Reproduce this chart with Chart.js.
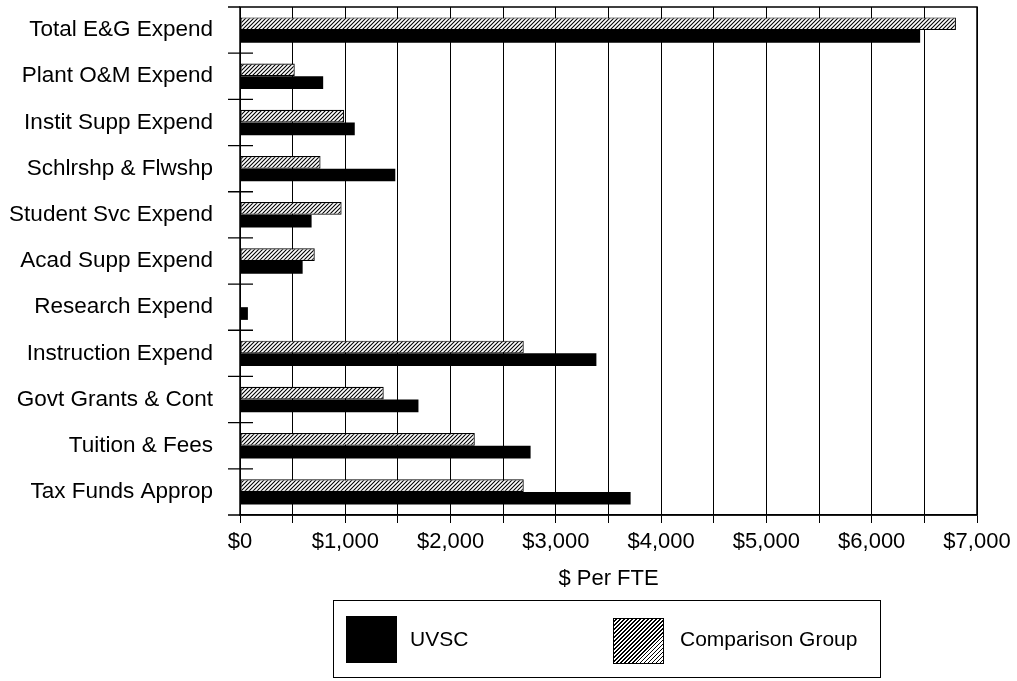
<!DOCTYPE html>
<html>
<head>
<meta charset="utf-8">
<script src="https://cdn.jsdelivr.net/npm/chart.js@4.4.0/dist/chart.umd.min.js"></script>
<style>
  html, body { margin: 0; padding: 0; background: #fff; }
  #wrap { position: relative; width: 1017px; height: 681px; overflow: hidden; }
  #c { position: absolute; left: 0; top: 0; }
  #legend {
    position: absolute; left: 333px; top: 600px; width: 548px; height: 78px;
    border: 1.5px solid #000; box-sizing: border-box;
    font-family: 'Liberation Sans', Arial, sans-serif; font-size: 21px; color: #000;
  }
  .sw { position: absolute; box-sizing: border-box; }
  .lt { position: absolute; line-height: 26px; white-space: nowrap; }
</style>
</head>
<body>
<div id="wrap">
  <canvas id="c" width="1017" height="681"></canvas>
  <div id="legend">
    <div class="sw" style="left:12px; top:15px; width:51px; height:47px; background:#000;"></div>
    <div class="lt" style="left:76px; top:25px;">UVSC</div>
    <div class="sw" style="left:279px; top:17px; width:51px; height:46px; border:1.5px solid #000;
      background: repeating-linear-gradient(-45deg, #fff 0px, #fff 1.6px, #000 1.6px, #000 2.8px);"></div>
    <div class="lt" style="left:346px; top:25px;">Comparison Group</div>
  </div>
</div>
<script>
// ---- data ----
const categories = [
  'Total E&G Expend', 'Plant O&M Expend', 'Instit Supp Expend', 'Schlrshp & Flwshp',
  'Student Svc Expend', 'Acad Supp Expend', 'Research Expend', 'Instruction Expend',
  'Govt Grants & Cont', 'Tuition & Fees', 'Tax Funds Approp'
];
const comparisonGroup = [6800, 520, 990, 765, 965, 710, 0, 2695, 1365, 2230, 2695];
const uvsc = [6460, 790, 1090, 1475, 680, 595, 75, 3385, 1695, 2760, 3710];
const xTickValues = [0, 1000, 2000, 3000, 4000, 5000, 6000, 7000];
const seriesNames = ['Comparison Group', 'UVSC'];
const axisTitle = '$ Per FTE';

// ---- hatch pattern ----
function makeHatch() {
  const s = 4;
  const p = document.createElement('canvas');
  p.width = s; p.height = s;
  const g = p.getContext('2d');
  g.fillStyle = '#fff';
  g.fillRect(0, 0, s, s);
  g.strokeStyle = '#000';
  g.lineWidth = 1.1;
  g.beginPath();
  g.moveTo(0, s); g.lineTo(s, 0);
  g.moveTo(-1, 1); g.lineTo(1, -1);
  g.moveTo(s - 1, s + 1); g.lineTo(s + 1, s - 1);
  g.stroke();
  return document.getElementById('c').getContext('2d').createPattern(p, 'repeat');
}

const FONT = "'Liberation Sans', Arial, sans-serif";

const framePlugin = {
  id: 'frame',
  afterDraw(chart) {
    const { ctx, chartArea: a, scales } = chart;
    const y = scales.y;
    ctx.save();
    ctx.strokeStyle = '#000';
    ctx.lineWidth = 1.5;
    ctx.strokeRect(a.left, a.top, a.right - a.left, a.bottom - a.top);
    // category separator marks crossing the value axis
    const n = categories.length;
    ctx.lineWidth = 1.3;
    ctx.beginPath();
    for (let i = 0; i <= n; i++) {
      let py;
      if (i === 0) py = a.top;
      else if (i === n) py = a.bottom;
      else py = (y.getPixelForValue(i - 1) + y.getPixelForValue(i)) / 2;
      ctx.moveTo(a.left - 12, py);
      ctx.lineTo(i === 0 || i === n ? a.left : a.left + 13, py);
    }
    ctx.stroke();
    ctx.restore();
  }
};

new Chart(document.getElementById('c'), {
  type: 'bar',
  data: {
    labels: categories,
    datasets: [
      {
        label: seriesNames[0],
        data: comparisonGroup,
        backgroundColor: makeHatch(),
        borderColor: '#000',
        borderWidth: 1.2,
        borderSkipped: false
      },
      {
        label: seriesNames[1],
        data: uvsc,
        backgroundColor: '#000',
        borderColor: '#000',
        borderWidth: 0
      }
    ]
  },
  plugins: [framePlugin],
  options: {
    indexAxis: 'y',
    responsive: false,
    animation: false,
    devicePixelRatio: 1,
    categoryPercentage: 0.55,
    barPercentage: 1.0,
    layout: { padding: { top: 7, right: 40, bottom: 81, left: 0 } },
    plugins: {
      legend: { display: false },
      tooltip: { enabled: false }
    },
    scales: {
      x: {
        type: 'linear',
        min: 0,
        max: 7000,
        afterFit(s) { s.height = 85; s.paddingLeft = 0; s.paddingRight = 0; },
        afterBuildTicks(s) {
          const t = [];
          for (let v = 0; v <= 7000; v += 500) t.push({ value: v });
          s.ticks = t;
        },
        grid: {
          color: '#000',
          lineWidth: 1,
          tickLength: 8,
          drawTicks: true
        },
        border: { display: true, color: '#000', width: 1.5 },
        ticks: {
          autoSkip: false,
          maxRotation: 0,
          padding: 6,
          color: '#000',
          font: { family: FONT, size: 22 },
          callback(v) {
            return xTickValues.includes(v) ? '$' + Number(v).toLocaleString('en-US') : '';
          }
        },
        title: {
          display: true,
          text: axisTitle,
          color: '#000',
          font: { family: FONT, size: 22 },
          padding: { top: 0, bottom: 8 }
        }
      },
      y: {
        type: 'category',
        afterFit(s) { s.width = 240; s.paddingTop = 0; s.paddingBottom = 0; },
        grid: { display: false, drawTicks: false, tickLength: 0 },
        border: { display: false },
        ticks: {
          padding: 27,
          color: '#000',
          font: { family: FONT, size: 22.5 }
        }
      }
    }
  }
});
</script>
</body>
</html>
